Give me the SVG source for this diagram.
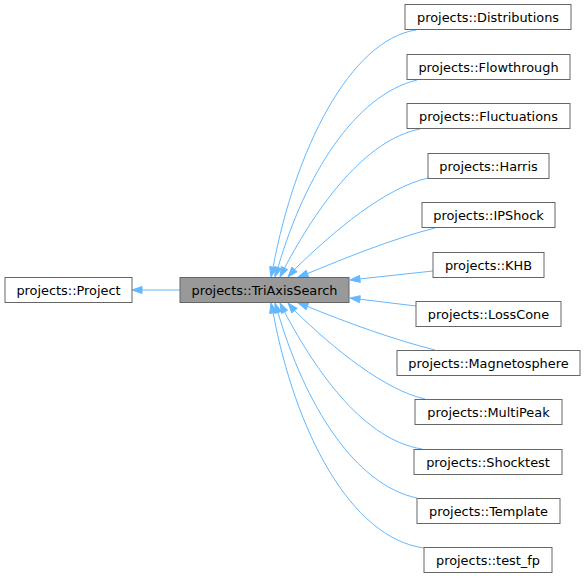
<svg xmlns="http://www.w3.org/2000/svg" width="585" height="579" viewBox="0 0 585 579">
<style>
.n rect{fill:#ffffff;stroke:#666666;stroke-width:1}
.n.cur rect{fill:#999999}
.n text{font-family:"DejaVu Sans","Liberation Sans",sans-serif;font-size:12.9px;fill:#000000;text-anchor:middle}
.e path{fill:none;stroke:#63b8ff;stroke-width:1}
.e polygon{fill:#63b8ff;stroke:#63b8ff;stroke-width:1}
</style>
<rect x="0" y="0" width="585" height="579" fill="#ffffff"/>
<g id="edges" class="e">
<path d="M180,290 L142,290"/><polygon points="132,290 142,286.5 142,293.5"/>
<path d="M416,30 C350,40 295,150 273.1,267.2"/><polygon points="271,277 276.5,268 269.7,266.5"/>
<path d="M417,80 C355,95 305,175 278,267.5"/><polygon points="275,277 281.3,268.6 274.7,266.5"/>
<path d="M420,129 C365,140 318,205 284.5,268.1"/><polygon points="280,277 287.6,269.7 281.4,266.5"/>
<path d="M428,178 C385,188 335,230 294.5,269.4"/><polygon points="288,277 297.2,271.7 291.8,267.1"/>
<path d="M435,228 C395,238 345,258 307.4,273.6"/><polygon points="298,277 308.6,276.9 306.2,270.3"/>
<path d="M433,271 L359.9,278.9"/><polygon points="350,280 360.3,282.4 359.5,275.4"/>
<path d="M416,306 L359.9,299.2"/><polygon points="350,298 359.5,302.7 360.3,295.7"/>
<path d="M435,350 C395,340 345,322 307.4,306.4"/><polygon points="298,303 308.6,303.1 306.2,309.7"/>
<path d="M425,399 C385,390 335,350 294.5,310.6"/><polygon points="288,303 297.2,308.3 291.8,312.9"/>
<path d="M422,449 C365,440 318,375 284.5,311.9"/><polygon points="280,303 287.6,310.3 281.4,313.5"/>
<path d="M417,498 C355,485 305,405 278,312.5"/><polygon points="275,303 281.3,311.4 274.7,313.5"/>
<path d="M424,548 C350,538 295,430 273.1,312.8"/><polygon points="271,303 276.5,312 269.7,313.5"/>
</g>
<g id="node_project" class="n"><rect x="5" y="277.5" width="127" height="25"/><text x="68.5" y="294.5">projects::Project</text></g>
<g id="node_triaxis" class="n cur"><rect x="180" y="277.5" width="169" height="25"/><text x="264.5" y="294.5">projects::TriAxisSearch</text></g>
<g id="node_distributions" class="n"><rect x="405" y="4.5" width="166" height="25"/><text x="488" y="21.5">projects::Distributions</text></g>
<g id="node_flowthrough" class="n"><rect x="407" y="54.5" width="163" height="25"/><text x="488.5" y="71.5">projects::Flowthrough</text></g>
<g id="node_fluctuations" class="n"><rect x="407" y="103.5" width="163" height="25"/><text x="488.5" y="120.5">projects::Fluctuations</text></g>
<g id="node_harris" class="n"><rect x="428" y="153.5" width="121" height="25"/><text x="488.5" y="170.5">projects::Harris</text></g>
<g id="node_ipshock" class="n"><rect x="422" y="202.5" width="133" height="25"/><text x="488.5" y="219.5">projects::IPShock</text></g>
<g id="node_khb" class="n"><rect x="433" y="252.5" width="111" height="25"/><text x="488.5" y="269.5">projects::KHB</text></g>
<g id="node_losscone" class="n"><rect x="416" y="301.5" width="145" height="25"/><text x="488.5" y="318.5">projects::LossCone</text></g>
<g id="node_magnetosphere" class="n"><rect x="397" y="350.5" width="183" height="25"/><text x="488.5" y="367.5">projects::Magnetosphere</text></g>
<g id="node_multipeak" class="n"><rect x="415" y="399.5" width="147" height="25"/><text x="488.5" y="416.5">projects::MultiPeak</text></g>
<g id="node_shocktest" class="n"><rect x="414" y="449.5" width="148" height="25"/><text x="488" y="466.5">projects::Shocktest</text></g>
<g id="node_template" class="n"><rect x="417" y="498.5" width="143" height="25"/><text x="488.5" y="515.5">projects::Template</text></g>
<g id="node_test_fp" class="n"><rect x="424" y="547.5" width="128" height="25"/><text x="488" y="564.5">projects::test_fp</text></g>
</svg>
